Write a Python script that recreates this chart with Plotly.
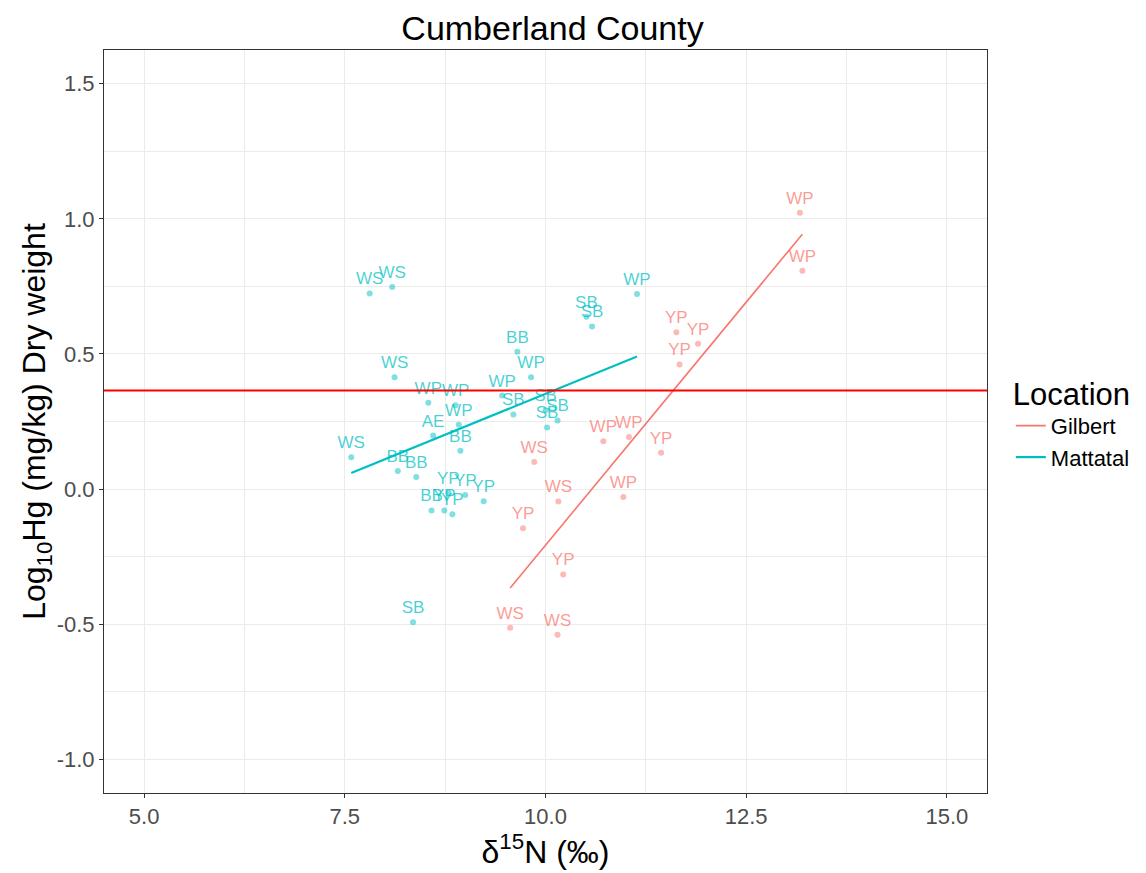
import numpy as np
import plotly.graph_objects as go

# Gilbert
g_species = ["WP", "WP", "YP", "YP", "YP", "WP", "WP", "YP", "WS", "WS", "WP", "YP", "YP", "WS", "WS"]
g_d15n = [13.17, 13.20, 11.63, 11.90, 11.67, 10.72, 11.04, 11.44, 9.86, 10.16, 10.97, 9.72, 10.22, 9.56, 10.15]
g_loghg = [1.023, 0.808, 0.580, 0.538, 0.461, 0.177, 0.193, 0.134, 0.100, -0.046, -0.029, -0.145, -0.316, -0.513, -0.539]

# Mattatal
m_species = ["WS", "WS", "WP", "SB", "SB", "BB", "WS", "WP", "WP", "WP", "WP", "SB", "SB", "SB", "SB",
             "AE", "WP", "BB", "WS", "BB", "BB", "YP", "YP", "YP", "BB", "YP", "YP", "SB"]
m_d15n = [7.81, 8.09, 11.14, 10.51, 10.58, 9.65, 8.12, 9.82, 9.46, 8.54, 8.88, 9.60, 10.00, 10.15, 10.02,
          8.60, 8.92, 8.94, 7.58, 8.16, 8.39, 8.79, 9.00, 9.23, 8.58, 8.74, 8.84, 8.35]
m_loghg = [0.724, 0.748, 0.722, 0.638, 0.602, 0.508, 0.414, 0.414, 0.346, 0.319, 0.310, 0.276, 0.292, 0.254, 0.228,
           0.198, 0.238, 0.142, 0.118, 0.067, 0.045, -0.014, -0.022, -0.045, -0.079, -0.079, -0.093, -0.493]

threshold = 0.365

groups = [
    ("Gilbert", g_species, g_d15n, g_loghg, "248,118,109"),
    ("Mattatal", m_species, m_d15n, m_loghg, "0,191,196"),
]

font_family = "Liberation Sans, Arial, sans-serif"
fig = go.Figure()

for name, sp, x, y, rgb in groups:
    fig.add_trace(go.Scatter(
        x=x, y=y, mode="markers+text", text=sp, textposition="top center",
        textfont=dict(color=f"rgba({rgb},0.72)", size=17, family=font_family),
        marker=dict(color=f"rgba({rgb},0.5)", size=6),
        showlegend=False, hoverinfo="x+y+text", cliponaxis=False,
    ))

for name, sp, x, y, rgb in groups:
    xa = np.array(x)
    ya = np.array(y)
    b, a = np.polyfit(xa, ya, 1)
    xs = np.array([xa.min(), xa.max()])
    fig.add_trace(go.Scatter(
        x=xs, y=a + b * xs, mode="lines",
        line=dict(color=f"rgb({rgb})", width=2.2 if name == "Mattatal" else 1.6),
        name=name, showlegend=True,
    ))

fig.add_hline(y=threshold, line=dict(color="#FF0000", width=2))

grid = "#EBEBEB"
fig.update_layout(
    width=1138, height=865,
    margin=dict(l=96, r=159, t=42, b=80, autoexpand=False),
    paper_bgcolor="white", plot_bgcolor="white",
    font=dict(family=font_family, color="black"),
    title=dict(text="Cumberland County", x=0.4785, xanchor="center", y=0.977, yanchor="middle",
               font=dict(size=34, color="black")),
    legend=dict(
        title=dict(text="Location", font=dict(size=31)),
        font=dict(size=22), x=1.027, xanchor="left", y=0.50, yanchor="middle",
        tracegroupgap=0, itemwidth=30,
    ),
    showlegend=True,
)
fig.update_xaxes(
    range=[4.5, 15.5], tickvals=[5, 7.5, 10, 12.5, 15],
    ticktext=["5.0", "7.5", "10.0", "12.5", "15.0"],
    showgrid=True, gridcolor=grid, gridwidth=1,
    minor=dict(tickvals=[6.25, 8.75, 11.25, 13.75], showgrid=True, gridcolor=grid, gridwidth=0.6),
    zeroline=False, showline=True, linecolor="#333333", linewidth=1, mirror=True,
    ticks="outside", ticklen=4, tickcolor="#333333",
    tickfont=dict(size=22, color="#4D4D4D"),
    title=dict(text="δ<sup>15</sup>N (‰)", font=dict(size=32, color="black"), standoff=6),
)
fig.update_yaxes(
    range=[-1.125, 1.625], tickvals=[-1, -0.5, 0, 0.5, 1, 1.5],
    ticktext=["-1.0", "-0.5", "0.0", "0.5", "1.0", "1.5"],
    showgrid=True, gridcolor=grid, gridwidth=1,
    minor=dict(tickvals=[-0.75, -0.25, 0.25, 0.75, 1.25], showgrid=True, gridcolor=grid, gridwidth=0.6),
    zeroline=False, showline=True, linecolor="#333333", linewidth=1, mirror=True,
    ticks="outside", ticklen=4, tickcolor="#333333",
    tickfont=dict(size=22, color="#4D4D4D"),
    title=dict(text="Log<sub>10</sub>Hg (mg/kg) Dry weight", font=dict(size=32, color="black"), standoff=0),
)

fig.write_html("out.html")
